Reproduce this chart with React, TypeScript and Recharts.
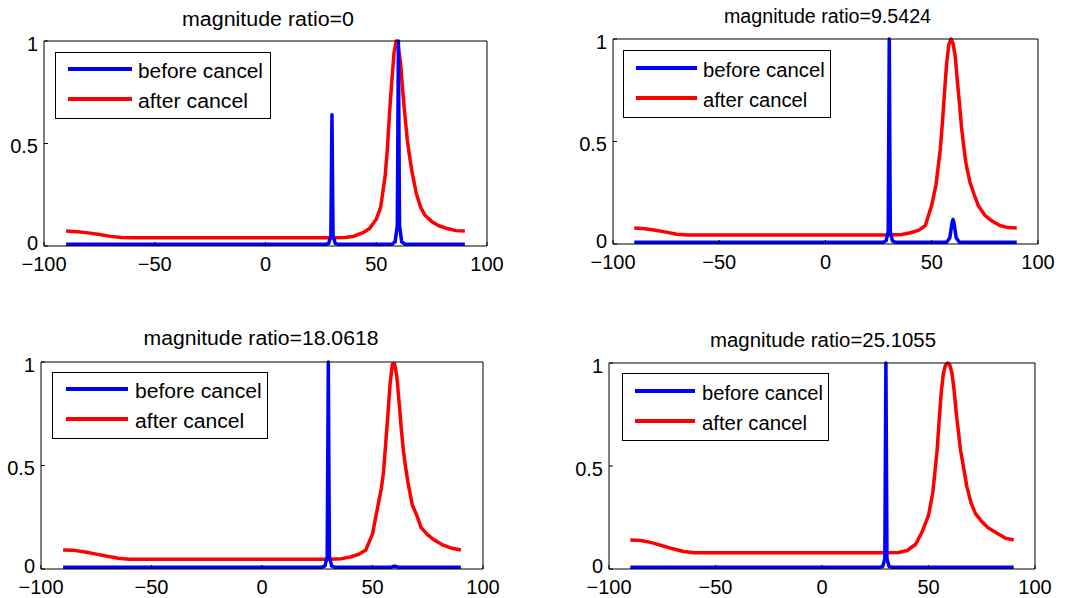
import { LineChart, Line, XAxis, YAxis, Legend } from 'recharts';

const FONT = '"Liberation Sans", Arial, Helvetica, sans-serif';
const BLUE = '#0000ff';
const RED = '#ff0000';

const X_TICKS = [-100, -50, 0, 50, 100];
const Y_TICKS = [0, 0.5, 1];

const TITLES = [
  'magnitude ratio=0',
  'magnitude ratio=9.5424',
  'magnitude ratio=18.0618',
  'magnitude ratio=25.1055',
];
const SERIES_NAMES = ['before cancel', 'after cancel'];

// "after cancel" curves (red), sampled on the angle grid below
const RED_ANGLES = [-90, -85, -80, -75, -70, -65, -60, -30, 0, 30, 36, 40, 44, 47, 50, 52, 54, 55, 56, 57, 58, 59, 60, 61, 62, 63, 64, 65, 66, 68, 70, 72, 75, 78, 82, 86, 90];
const AFTER_1 = [0.073, 0.07, 0.064, 0.056, 0.047, 0.041, 0.04, 0.04, 0.04, 0.04, 0.041, 0.048, 0.065, 0.085, 0.13, 0.19, 0.34, 0.47, 0.65, 0.8, 0.94, 1.0, 0.97, 0.89, 0.75, 0.63, 0.52, 0.44, 0.37, 0.26, 0.19, 0.15, 0.12, 0.1, 0.085, 0.075, 0.073];
const AFTER_2 = [0.078, 0.074, 0.067, 0.058, 0.048, 0.044, 0.044, 0.044, 0.044, 0.044, 0.046, 0.055, 0.068, 0.09, 0.19, 0.29, 0.46, 0.59, 0.74, 0.88, 0.97, 1.0, 0.98, 0.92, 0.8, 0.69, 0.57, 0.48, 0.4, 0.3, 0.24, 0.185, 0.14, 0.115, 0.09, 0.08, 0.078];
const AFTER_3 = [0.092, 0.09, 0.082, 0.072, 0.062, 0.052, 0.047, 0.047, 0.047, 0.047, 0.05, 0.058, 0.072, 0.092, 0.17, 0.28, 0.39, 0.47, 0.61, 0.75, 0.9, 0.99, 0.99, 0.93, 0.81, 0.68, 0.57, 0.49, 0.42, 0.31, 0.26, 0.2, 0.165, 0.14, 0.115, 0.1, 0.092];
const AFTER_4 = [0.141, 0.138, 0.128, 0.113, 0.098, 0.085, 0.079, 0.079, 0.079, 0.079, 0.08, 0.09, 0.12, 0.18, 0.26, 0.37, 0.57, 0.72, 0.86, 0.95, 0.99, 1.0, 0.99, 0.95, 0.87, 0.76, 0.67, 0.58, 0.52, 0.4, 0.32, 0.27, 0.23, 0.2, 0.175, 0.15, 0.141];

// "before cancel" curves (blue), finer around the two sources
const BLUE_ANGLES = [-90, 27, 28.5, 29.5, 30, 30.5, 31.5, 33, 57, 58.5, 59.5, 60, 60.5, 61.5, 63, 90];
const BEFORE_1 = [0.008, 0.008, 0.012, 0.05, 0.64, 0.05, 0.012, 0.008, 0.008, 0.02, 0.1, 1.0, 0.1, 0.02, 0.008, 0.008];
const BEFORE_2 = [0.008, 0.008, 0.015, 0.06, 1.0, 0.06, 0.015, 0.008, 0.008, 0.03, 0.1, 0.12, 0.1, 0.03, 0.008, 0.008];
const BEFORE_3 = [0.008, 0.008, 0.015, 0.06, 1.0, 0.06, 0.015, 0.008, 0.008, 0.009, 0.012, 0.014, 0.012, 0.009, 0.008, 0.008];
const BEFORE_4 = [0.008, 0.008, 0.012, 0.05, 1.0, 0.05, 0.012, 0.008, 0.008, 0.008, 0.008, 0.008, 0.008, 0.008, 0.008, 0.008];

const toPoints = (xs: number[], ys: number[]) => xs.map((x, i) => ({ x, y: ys[i] }));

// plot boxes in page pixels + title / legend placement
const PANELS = [
  {
    L: 44, T: 41, R: 487, B: 246, before: BEFORE_1, after: AFTER_1,
    title: { cx: 268, y: 25.7, w: 172 },
    legend: { x: 55, y: 52, w: 215, h: 66, x0: 13, x1: 77, tx: 83, r1: 17, r2: 47, w1: 125, w2: 110 },
  },
  {
    L: 613, T: 39, R: 1038, B: 244, before: BEFORE_2, after: AFTER_2,
    title: { cx: 827.5, y: 22.7, w: 207 },
    legend: { x: 623, y: 50, w: 207, h: 67, x0: 13, x1: 74, tx: 80, r1: 18, r2: 48, w1: 121.7, w2: 104.3 },
  },
  {
    L: 41, T: 362, R: 483, B: 569, before: BEFORE_3, after: AFTER_3,
    title: { cx: 261, y: 345, w: 235 },
    legend: { x: 52, y: 372, w: 215, h: 66, x0: 14, x1: 76, tx: 83, r1: 17, r2: 47, w1: 126.7, w2: 109.3 },
  },
  {
    L: 609, T: 363, R: 1035, B: 569, before: BEFORE_4, after: AFTER_4,
    title: { cx: 823, y: 346.7, w: 226 },
    legend: { x: 622, y: 373, w: 206, h: 67, x0: 13, x1: 73, tx: 80, r1: 18, r2: 48, w1: 121, w2: 105 },
  },
];

const PAD_L = 60;
const PAD_T = 45;
const PAD_R = 30;
const PAD_B = 40;

const fmtX = (v: number) => (v < 0 ? `\u2212${-v}` : String(v));
const blank = () => '';

// matlab keeps the bottom label a bit above its tick, the others a bit below
const YTick = ({ x, y, payload }: { x?: number; y?: number; payload?: { value: number } }) => {
  const v = payload?.value ?? 0;
  const shift = v === 0 ? -3 : 2.5;
  return (
    <text x={x} y={(y ?? 0) + shift} dy="0.355em" textAnchor="end" fontSize={20} fontFamily={FONT} fill="#000">
      {String(v)}
    </text>
  );
};

type LegendBox = (typeof PANELS)[number]['legend'];

const BoxLegend = ({ payload, box }: { payload?: Array<{ value: string; color: string }>; box: LegendBox }) => {
  const items = SERIES_NAMES.map((n) => (payload || []).find((p) => p.value === n)).filter(Boolean) as Array<{ value: string; color: string }>;
  const rows = [box.r1, box.r2];
  const widths = [box.w1, box.w2];
  return (
    <svg width={box.w + 2} height={box.h + 2} style={{ display: 'block' }}>
      <rect x={0.5} y={0.5} width={box.w} height={box.h} fill="#fff" stroke="#000" strokeWidth={1} />
      {items.map((it, i) => (
        <g key={it.value}>
          <line x1={box.x0} x2={box.x1} y1={rows[i]} y2={rows[i]} stroke={it.color} strokeWidth={4} />
          <text
            x={box.tx}
            y={rows[i] + 9}
            fontSize={20}
            fontFamily={FONT}
            fill="#000"
            textLength={widths[i]}
            lengthAdjust="spacingAndGlyphs"
          >
            {it.value}
          </text>
        </g>
      ))}
    </svg>
  );
};

function Panel({ p }: { p: (typeof PANELS)[number] }) {
  const w = p.R - p.L + PAD_L + PAD_R;
  const h = p.B - p.T + PAD_T + PAD_B;
  const left = p.L - PAD_L;
  const top = p.T - PAD_T;
  const tick = { fill: '#000', fontSize: 20, fontFamily: FONT };
  const axisStroke = { stroke: '#000', strokeWidth: 1 };

  return (
    <div style={{ position: 'absolute', left, top, width: w, height: h }}>
      <LineChart width={w} height={h} margin={{ top: PAD_T - 1, right: PAD_R - 1, bottom: PAD_B - 30, left: PAD_L - 50 }}>
        <XAxis
          xAxisId="bottom"
          type="number"
          dataKey="x"
          domain={[-100, 100]}
          ticks={X_TICKS}
          interval={0}
          height={30}
          tickSize={-4}
          tickMargin={15}
          tickFormatter={fmtX}
          tick={tick}
          axisLine={axisStroke}
          tickLine={axisStroke}
        />
        <XAxis
          xAxisId="top"
          orientation="top"
          type="number"
          dataKey="x"
          domain={[-100, 100]}
          ticks={X_TICKS}
          interval={0}
          height={1}
          tickSize={-4}
          tickFormatter={blank}
          axisLine={axisStroke}
          tickLine={axisStroke}
        />
        <YAxis
          yAxisId="left"
          type="number"
          domain={[0, 1]}
          ticks={Y_TICKS}
          interval={0}
          width={50}
          tickSize={-4}
          tickMargin={10}
          tick={(props: any) => <YTick {...props} />}
          axisLine={axisStroke}
          tickLine={axisStroke}
        />
        <YAxis
          yAxisId="right"
          orientation="right"
          type="number"
          domain={[0, 1]}
          ticks={Y_TICKS}
          interval={0}
          width={1}
          tickSize={-4}
          tickFormatter={blank}
          axisLine={axisStroke}
          tickLine={axisStroke}
        />
        <Line
          xAxisId="bottom"
          yAxisId="left"
          name="after cancel"
          data={toPoints(RED_ANGLES, p.after)}
          dataKey="y"
          type="linear"
          stroke={RED}
          strokeWidth={3.5}
          strokeLinejoin="round"
          dot={false}
          activeDot={false}
          isAnimationActive={false}
        />
        <Line
          xAxisId="bottom"
          yAxisId="left"
          name="before cancel"
          data={toPoints(BLUE_ANGLES, p.before)}
          dataKey="y"
          type="linear"
          stroke={BLUE}
          strokeWidth={3.5}
          strokeLinejoin="round"
          dot={false}
          activeDot={false}
          isAnimationActive={false}
        />
        <Legend
          layout="vertical"
          align="center"
          verticalAlign="middle"
          wrapperStyle={{
            left: p.legend.x - left,
            top: p.legend.y - top,
            width: p.legend.w + 2,
            height: p.legend.h + 2,
          }}
          content={(props: any) => <BoxLegend payload={props.payload} box={p.legend} />}
        />
      </LineChart>
    </div>
  );
}

export default function App() {
  return (
    <div style={{ position: 'absolute', left: 0, top: 0, width: 1084, height: 598, background: '#fff' }}>
      {PANELS.map((p, i) => (
        <Panel key={i} p={p} />
      ))}
      <svg width={1084} height={598} style={{ position: 'absolute', left: 0, top: 0, pointerEvents: 'none' }}>
        {PANELS.map((p, i) => (
          <text
            key={i}
            x={p.title.cx}
            y={p.title.y}
            textAnchor="middle"
            fontSize={20}
            fontFamily={FONT}
            fill="#000"
            textLength={p.title.w}
            lengthAdjust="spacingAndGlyphs"
          >
            {TITLES[i]}
          </text>
        ))}
      </svg>
    </div>
  );
}
